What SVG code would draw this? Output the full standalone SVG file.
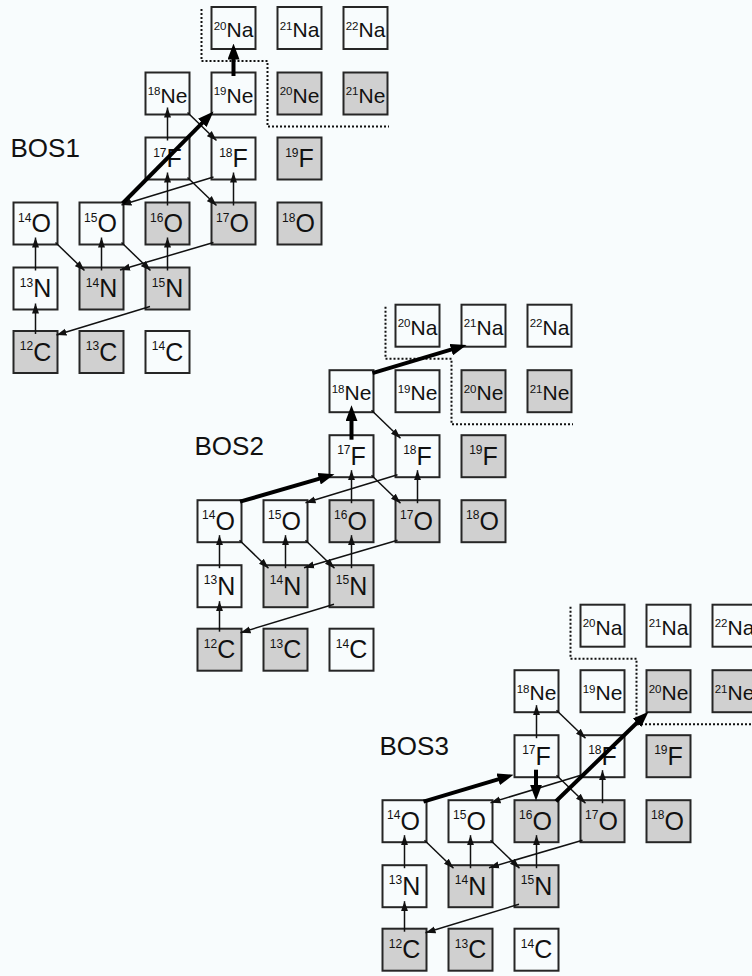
<svg xmlns="http://www.w3.org/2000/svg" width="752" height="976" viewBox="0 0 752 976">
<style>
.bg{fill:#f8fcfd}
.n rect{stroke:#262626;stroke-width:2}
.w{fill:#f8fcfd}
.g{fill:#d0d0d0}
.t{font-family:"Liberation Sans",Arial,Helvetica,sans-serif;font-size:25px;fill:#111;text-anchor:middle}
.t2{font-family:"Liberation Sans",Arial,Helvetica,sans-serif;font-size:21px;fill:#111;text-anchor:middle}
.s{font-size:12px}
.t2 .s{font-size:11.5px}
.lbl{font-family:"Liberation Sans",Arial,Helvetica,sans-serif;font-size:26px;fill:#111}
.c{stroke:#111;stroke-width:1.5;fill:none;marker-end:url(#ah)}
.k{stroke:#000;stroke-width:4;fill:none;marker-end:url(#ahT)}
.dot{stroke:#111;stroke-width:2;stroke-dasharray:2 2;fill:none}
</style>
<defs>
<marker id="ah" markerUnits="userSpaceOnUse" markerWidth="10" markerHeight="8" refX="10" refY="4" orient="auto"><path d="M0,0.5 L10,4 L0,7.5 z" fill="#111"/></marker>
<marker id="ahT" markerUnits="userSpaceOnUse" markerWidth="16" markerHeight="12" refX="5" refY="6" orient="auto"><path d="M0,0 L16,6 L0,12 z" fill="#000"/></marker>
</defs>
<rect class="bg" x="0" y="0" width="752" height="976"/>

<!-- ================= BOS1 ================= -->
<g id="bos1">
<text id="b1-label" class="lbl" x="10.5" y="157">BOS1</text>
<path id="b1-boundary" class="dot" d="M201.5,9 V61 H267.5 V126.5 H389"/>
<g id="b1-Na20" class="n" transform="translate(210.5,6)"><rect class="w" x="1" y="1" width="44" height="42"/><text class="t2" x="23" y="31"><tspan class="s" dy="-7.5">20</tspan><tspan dy="7.5">Na</tspan></text></g>
<g id="b1-Na21" class="n" transform="translate(276.5,6)"><rect class="w" x="1" y="1" width="44" height="42"/><text class="t2" x="23" y="31"><tspan class="s" dy="-7.5">21</tspan><tspan dy="7.5">Na</tspan></text></g>
<g id="b1-Na22" class="n" transform="translate(342.5,6)"><rect class="w" x="1" y="1" width="44" height="42"/><text class="t2" x="23" y="31"><tspan class="s" dy="-7.5">22</tspan><tspan dy="7.5">Na</tspan></text></g>
<g id="b1-Ne18" class="n" transform="translate(144.5,71.5)"><rect class="w" x="1" y="1" width="44" height="42"/><text class="t2" x="23" y="31"><tspan class="s" dy="-7.5">18</tspan><tspan dy="7.5">Ne</tspan></text></g>
<g id="b1-Ne19" class="n" transform="translate(210.5,71.5)"><rect class="w" x="1" y="1" width="44" height="42"/><text class="t2" x="23" y="31"><tspan class="s" dy="-7.5">19</tspan><tspan dy="7.5">Ne</tspan></text></g>
<g id="b1-Ne20" class="n" transform="translate(276.5,71.5)"><rect class="g" x="1" y="1" width="44" height="42"/><text class="t2" x="23" y="31"><tspan class="s" dy="-7.5">20</tspan><tspan dy="7.5">Ne</tspan></text></g>
<g id="b1-Ne21" class="n" transform="translate(342.5,71.5)"><rect class="g" x="1" y="1" width="44" height="42"/><text class="t2" x="23" y="31"><tspan class="s" dy="-7.5">21</tspan><tspan dy="7.5">Ne</tspan></text></g>
<g id="b1-F17" class="n" transform="translate(144.5,136.5)"><rect class="w" x="1" y="1" width="44" height="42"/><text class="t" x="23" y="30.5"><tspan class="s" dy="-10.5">17</tspan><tspan dy="10.5">F</tspan></text></g>
<g id="b1-F18" class="n" transform="translate(210.5,136.5)"><rect class="w" x="1" y="1" width="44" height="42"/><text class="t" x="23" y="30.5"><tspan class="s" dy="-10.5">18</tspan><tspan dy="10.5">F</tspan></text></g>
<g id="b1-F19" class="n" transform="translate(276.5,136.5)"><rect class="g" x="1" y="1" width="44" height="42"/><text class="t" x="23" y="30.5"><tspan class="s" dy="-10.5">19</tspan><tspan dy="10.5">F</tspan></text></g>
<g id="b1-O14" class="n" transform="translate(12.5,201.5)"><rect class="w" x="1" y="1" width="44" height="42"/><text class="t" x="22" y="30.5"><tspan class="s" dy="-10.5">14</tspan><tspan dy="10.5">O</tspan></text></g>
<g id="b1-O15" class="n" transform="translate(78.5,201.5)"><rect class="w" x="1" y="1" width="44" height="42"/><text class="t" x="22" y="30.5"><tspan class="s" dy="-10.5">15</tspan><tspan dy="10.5">O</tspan></text></g>
<g id="b1-O16" class="n" transform="translate(144.5,201.5)"><rect class="g" x="1" y="1" width="44" height="42"/><text class="t" x="22" y="30.5"><tspan class="s" dy="-10.5">16</tspan><tspan dy="10.5">O</tspan></text></g>
<g id="b1-O17" class="n" transform="translate(210.5,201.5)"><rect class="g" x="1" y="1" width="44" height="42"/><text class="t" x="22" y="30.5"><tspan class="s" dy="-10.5">17</tspan><tspan dy="10.5">O</tspan></text></g>
<g id="b1-O18" class="n" transform="translate(276.5,201.5)"><rect class="g" x="1" y="1" width="44" height="42"/><text class="t" x="22" y="30.5"><tspan class="s" dy="-10.5">18</tspan><tspan dy="10.5">O</tspan></text></g>
<g id="b1-N13" class="n" transform="translate(12.5,266.5)"><rect class="w" x="1" y="1" width="44" height="42"/><text class="t" x="23" y="30.5"><tspan class="s" dy="-10.5">13</tspan><tspan dy="10.5">N</tspan></text></g>
<g id="b1-N14" class="n" transform="translate(78.5,266.5)"><rect class="g" x="1" y="1" width="44" height="42"/><text class="t" x="23" y="30.5"><tspan class="s" dy="-10.5">14</tspan><tspan dy="10.5">N</tspan></text></g>
<g id="b1-N15" class="n" transform="translate(144.5,266.5)"><rect class="g" x="1" y="1" width="44" height="42"/><text class="t" x="23" y="30.5"><tspan class="s" dy="-10.5">15</tspan><tspan dy="10.5">N</tspan></text></g>
<g id="b1-C12" class="n" transform="translate(12.5,330)"><rect class="g" x="1" y="1" width="44" height="42"/><text class="t" x="23" y="30.5"><tspan class="s" dy="-10.5">12</tspan><tspan dy="10.5">C</tspan></text></g>
<g id="b1-C13" class="n" transform="translate(78.5,330)"><rect class="g" x="1" y="1" width="44" height="42"/><text class="t" x="23" y="30.5"><tspan class="s" dy="-10.5">13</tspan><tspan dy="10.5">C</tspan></text></g>
<g id="b1-C14" class="n" transform="translate(144.5,330)"><rect class="w" x="1" y="1" width="44" height="42"/><text class="t" x="23" y="30.5"><tspan class="s" dy="-10.5">14</tspan><tspan dy="10.5">C</tspan></text></g>
<g id="b1-connectors">
<path class="c" d="M35.5,334 V303.5"/>
<path class="c" d="M35.5,270.5 V237.5"/>
<path class="c" d="M101.5,270.5 V237.5"/>
<path class="c" d="M167.5,270.5 V237.5"/>
<path class="c" d="M167.5,205.5 V172.5"/>
<path class="c" d="M233.5,205.5 V172.5"/>
<path class="c" d="M167.5,140.5 V107.5"/>
<path class="c" d="M55.5,242.5 L84.5,270.5"/>
<path class="c" d="M121.5,242.5 L150.5,270.5"/>
<path class="c" d="M187.5,177.5 L216.5,205.5"/>
<path class="c" d="M187.5,112.5 L216.5,140.5"/>
<path class="c" d="M150,306.5 L56.5,335"/>
<path class="c" d="M213.5,242.5 L120,270"/>
<path class="c" d="M213.5,177 L121.5,205"/>
<path class="k" d="M122.5,203.5 L205.8,119.3"/>
<path class="k" d="M233.5,76 V54.5"/>
</g>
</g>

<!-- ================= BOS2 ================= -->
<g id="bos2" transform="translate(184,297.7)">
<text id="b2-label" class="lbl" x="10.5" y="157">BOS2</text>
<path id="b2-boundary" class="dot" d="M201.5,9 V61 H267.5 V126.5 H389"/>
<g id="b2-Na20" class="n" transform="translate(210.5,6)"><rect class="w" x="1" y="1" width="44" height="42"/><text class="t2" x="23" y="31"><tspan class="s" dy="-7.5">20</tspan><tspan dy="7.5">Na</tspan></text></g>
<g id="b2-Na21" class="n" transform="translate(276.5,6)"><rect class="w" x="1" y="1" width="44" height="42"/><text class="t2" x="23" y="31"><tspan class="s" dy="-7.5">21</tspan><tspan dy="7.5">Na</tspan></text></g>
<g id="b2-Na22" class="n" transform="translate(342.5,6)"><rect class="w" x="1" y="1" width="44" height="42"/><text class="t2" x="23" y="31"><tspan class="s" dy="-7.5">22</tspan><tspan dy="7.5">Na</tspan></text></g>
<g id="b2-Ne18" class="n" transform="translate(144.5,71.5)"><rect class="w" x="1" y="1" width="44" height="42"/><text class="t2" x="23" y="31"><tspan class="s" dy="-7.5">18</tspan><tspan dy="7.5">Ne</tspan></text></g>
<g id="b2-Ne19" class="n" transform="translate(210.5,71.5)"><rect class="w" x="1" y="1" width="44" height="42"/><text class="t2" x="23" y="31"><tspan class="s" dy="-7.5">19</tspan><tspan dy="7.5">Ne</tspan></text></g>
<g id="b2-Ne20" class="n" transform="translate(276.5,71.5)"><rect class="g" x="1" y="1" width="44" height="42"/><text class="t2" x="23" y="31"><tspan class="s" dy="-7.5">20</tspan><tspan dy="7.5">Ne</tspan></text></g>
<g id="b2-Ne21" class="n" transform="translate(342.5,71.5)"><rect class="g" x="1" y="1" width="44" height="42"/><text class="t2" x="23" y="31"><tspan class="s" dy="-7.5">21</tspan><tspan dy="7.5">Ne</tspan></text></g>
<g id="b2-F17" class="n" transform="translate(144.5,136.5)"><rect class="w" x="1" y="1" width="44" height="42"/><text class="t" x="23" y="30.5"><tspan class="s" dy="-10.5">17</tspan><tspan dy="10.5">F</tspan></text></g>
<g id="b2-F18" class="n" transform="translate(210.5,136.5)"><rect class="w" x="1" y="1" width="44" height="42"/><text class="t" x="23" y="30.5"><tspan class="s" dy="-10.5">18</tspan><tspan dy="10.5">F</tspan></text></g>
<g id="b2-F19" class="n" transform="translate(276.5,136.5)"><rect class="g" x="1" y="1" width="44" height="42"/><text class="t" x="23" y="30.5"><tspan class="s" dy="-10.5">19</tspan><tspan dy="10.5">F</tspan></text></g>
<g id="b2-O14" class="n" transform="translate(12.5,201.5)"><rect class="w" x="1" y="1" width="44" height="42"/><text class="t" x="22" y="30.5"><tspan class="s" dy="-10.5">14</tspan><tspan dy="10.5">O</tspan></text></g>
<g id="b2-O15" class="n" transform="translate(78.5,201.5)"><rect class="w" x="1" y="1" width="44" height="42"/><text class="t" x="22" y="30.5"><tspan class="s" dy="-10.5">15</tspan><tspan dy="10.5">O</tspan></text></g>
<g id="b2-O16" class="n" transform="translate(144.5,201.5)"><rect class="g" x="1" y="1" width="44" height="42"/><text class="t" x="22" y="30.5"><tspan class="s" dy="-10.5">16</tspan><tspan dy="10.5">O</tspan></text></g>
<g id="b2-O17" class="n" transform="translate(210.5,201.5)"><rect class="g" x="1" y="1" width="44" height="42"/><text class="t" x="22" y="30.5"><tspan class="s" dy="-10.5">17</tspan><tspan dy="10.5">O</tspan></text></g>
<g id="b2-O18" class="n" transform="translate(276.5,201.5)"><rect class="g" x="1" y="1" width="44" height="42"/><text class="t" x="22" y="30.5"><tspan class="s" dy="-10.5">18</tspan><tspan dy="10.5">O</tspan></text></g>
<g id="b2-N13" class="n" transform="translate(12.5,266.5)"><rect class="w" x="1" y="1" width="44" height="42"/><text class="t" x="23" y="30.5"><tspan class="s" dy="-10.5">13</tspan><tspan dy="10.5">N</tspan></text></g>
<g id="b2-N14" class="n" transform="translate(78.5,266.5)"><rect class="g" x="1" y="1" width="44" height="42"/><text class="t" x="23" y="30.5"><tspan class="s" dy="-10.5">14</tspan><tspan dy="10.5">N</tspan></text></g>
<g id="b2-N15" class="n" transform="translate(144.5,266.5)"><rect class="g" x="1" y="1" width="44" height="42"/><text class="t" x="23" y="30.5"><tspan class="s" dy="-10.5">15</tspan><tspan dy="10.5">N</tspan></text></g>
<g id="b2-C12" class="n" transform="translate(12.5,330)"><rect class="g" x="1" y="1" width="44" height="42"/><text class="t" x="23" y="30.5"><tspan class="s" dy="-10.5">12</tspan><tspan dy="10.5">C</tspan></text></g>
<g id="b2-C13" class="n" transform="translate(78.5,330)"><rect class="g" x="1" y="1" width="44" height="42"/><text class="t" x="23" y="30.5"><tspan class="s" dy="-10.5">13</tspan><tspan dy="10.5">C</tspan></text></g>
<g id="b2-C14" class="n" transform="translate(144.5,330)"><rect class="w" x="1" y="1" width="44" height="42"/><text class="t" x="23" y="30.5"><tspan class="s" dy="-10.5">14</tspan><tspan dy="10.5">C</tspan></text></g>
<g id="b2-connectors">
<path class="c" d="M35.5,334 V303.5"/>
<path class="c" d="M35.5,270.5 V237.5"/>
<path class="c" d="M101.5,270.5 V237.5"/>
<path class="c" d="M167.5,270.5 V237.5"/>
<path class="c" d="M167.5,205.5 V172.5"/>
<path class="c" d="M233.5,205.5 V172.5"/>
<path class="c" d="M55.5,242.5 L84.5,270.5"/>
<path class="c" d="M121.5,242.5 L150.5,270.5"/>
<path class="c" d="M187.5,177.5 L216.5,205.5"/>
<path class="c" d="M187.5,112.5 L216.5,140.5"/>
<path class="c" d="M150,306.5 L56.5,335"/>
<path class="c" d="M213.5,242.5 L120,270"/>
<path class="c" d="M213.5,177 L121.5,205"/>
<path class="k" d="M56,204 L139.9,179.6"/>
<path class="k" d="M167.5,142 V118.5"/>
<path class="k" d="M188.5,75.5 L272,50.5"/>
</g>
</g>

<!-- ================= BOS3 ================= -->
<g id="bos3" transform="translate(369,597.7)">
<text id="b3-label" class="lbl" x="10.5" y="157">BOS3</text>
<path id="b3-boundary" class="dot" d="M201.5,9 V61 H267.5 V126.5 H389"/>
<g id="b3-Na20" class="n" transform="translate(210.5,6)"><rect class="w" x="1" y="1" width="44" height="42"/><text class="t2" x="23" y="31"><tspan class="s" dy="-7.5">20</tspan><tspan dy="7.5">Na</tspan></text></g>
<g id="b3-Na21" class="n" transform="translate(276.5,6)"><rect class="w" x="1" y="1" width="44" height="42"/><text class="t2" x="23" y="31"><tspan class="s" dy="-7.5">21</tspan><tspan dy="7.5">Na</tspan></text></g>
<g id="b3-Na22" class="n" transform="translate(342.5,6)"><rect class="w" x="1" y="1" width="44" height="42"/><text class="t2" x="23" y="31"><tspan class="s" dy="-7.5">22</tspan><tspan dy="7.5">Na</tspan></text></g>
<g id="b3-Ne18" class="n" transform="translate(144.5,71.5)"><rect class="w" x="1" y="1" width="44" height="42"/><text class="t2" x="23" y="31"><tspan class="s" dy="-7.5">18</tspan><tspan dy="7.5">Ne</tspan></text></g>
<g id="b3-Ne19" class="n" transform="translate(210.5,71.5)"><rect class="w" x="1" y="1" width="44" height="42"/><text class="t2" x="23" y="31"><tspan class="s" dy="-7.5">19</tspan><tspan dy="7.5">Ne</tspan></text></g>
<g id="b3-Ne20" class="n" transform="translate(276.5,71.5)"><rect class="g" x="1" y="1" width="44" height="42"/><text class="t2" x="23" y="31"><tspan class="s" dy="-7.5">20</tspan><tspan dy="7.5">Ne</tspan></text></g>
<g id="b3-Ne21" class="n" transform="translate(342.5,71.5)"><rect class="g" x="1" y="1" width="44" height="42"/><text class="t2" x="23" y="31"><tspan class="s" dy="-7.5">21</tspan><tspan dy="7.5">Ne</tspan></text></g>
<g id="b3-F17" class="n" transform="translate(144.5,136.5)"><rect class="w" x="1" y="1" width="44" height="42"/><text class="t" x="23" y="30.5"><tspan class="s" dy="-10.5">17</tspan><tspan dy="10.5">F</tspan></text></g>
<g id="b3-F18" class="n" transform="translate(210.5,136.5)"><rect class="w" x="1" y="1" width="44" height="42"/><text class="t" x="23" y="30.5"><tspan class="s" dy="-10.5">18</tspan><tspan dy="10.5">F</tspan></text></g>
<g id="b3-F19" class="n" transform="translate(276.5,136.5)"><rect class="g" x="1" y="1" width="44" height="42"/><text class="t" x="23" y="30.5"><tspan class="s" dy="-10.5">19</tspan><tspan dy="10.5">F</tspan></text></g>
<g id="b3-O14" class="n" transform="translate(12.5,201.5)"><rect class="w" x="1" y="1" width="44" height="42"/><text class="t" x="22" y="30.5"><tspan class="s" dy="-10.5">14</tspan><tspan dy="10.5">O</tspan></text></g>
<g id="b3-O15" class="n" transform="translate(78.5,201.5)"><rect class="w" x="1" y="1" width="44" height="42"/><text class="t" x="22" y="30.5"><tspan class="s" dy="-10.5">15</tspan><tspan dy="10.5">O</tspan></text></g>
<g id="b3-O16" class="n" transform="translate(144.5,201.5)"><rect class="g" x="1" y="1" width="44" height="42"/><text class="t" x="22" y="30.5"><tspan class="s" dy="-10.5">16</tspan><tspan dy="10.5">O</tspan></text></g>
<g id="b3-O17" class="n" transform="translate(210.5,201.5)"><rect class="g" x="1" y="1" width="44" height="42"/><text class="t" x="22" y="30.5"><tspan class="s" dy="-10.5">17</tspan><tspan dy="10.5">O</tspan></text></g>
<g id="b3-O18" class="n" transform="translate(276.5,201.5)"><rect class="g" x="1" y="1" width="44" height="42"/><text class="t" x="22" y="30.5"><tspan class="s" dy="-10.5">18</tspan><tspan dy="10.5">O</tspan></text></g>
<g id="b3-N13" class="n" transform="translate(12.5,266.5)"><rect class="w" x="1" y="1" width="44" height="42"/><text class="t" x="23" y="30.5"><tspan class="s" dy="-10.5">13</tspan><tspan dy="10.5">N</tspan></text></g>
<g id="b3-N14" class="n" transform="translate(78.5,266.5)"><rect class="g" x="1" y="1" width="44" height="42"/><text class="t" x="23" y="30.5"><tspan class="s" dy="-10.5">14</tspan><tspan dy="10.5">N</tspan></text></g>
<g id="b3-N15" class="n" transform="translate(144.5,266.5)"><rect class="g" x="1" y="1" width="44" height="42"/><text class="t" x="23" y="30.5"><tspan class="s" dy="-10.5">15</tspan><tspan dy="10.5">N</tspan></text></g>
<g id="b3-C12" class="n" transform="translate(12.5,330)"><rect class="g" x="1" y="1" width="44" height="42"/><text class="t" x="23" y="30.5"><tspan class="s" dy="-10.5">12</tspan><tspan dy="10.5">C</tspan></text></g>
<g id="b3-C13" class="n" transform="translate(78.5,330)"><rect class="g" x="1" y="1" width="44" height="42"/><text class="t" x="23" y="30.5"><tspan class="s" dy="-10.5">13</tspan><tspan dy="10.5">C</tspan></text></g>
<g id="b3-C14" class="n" transform="translate(144.5,330)"><rect class="w" x="1" y="1" width="44" height="42"/><text class="t" x="23" y="30.5"><tspan class="s" dy="-10.5">14</tspan><tspan dy="10.5">C</tspan></text></g>
<g id="b3-connectors">
<path class="c" d="M35.5,334 V303.5"/>
<path class="c" d="M35.5,270.5 V237.5"/>
<path class="c" d="M101.5,270.5 V237.5"/>
<path class="c" d="M167.5,270.5 V237.5"/>
<path class="c" d="M233.5,205.5 V172.5"/>
<path class="c" d="M167.5,140.5 V107.5"/>
<path class="c" d="M55.5,242.5 L84.5,270.5"/>
<path class="c" d="M121.5,242.5 L150.5,270.5"/>
<path class="c" d="M187.5,177.5 L216.5,205.5"/>
<path class="c" d="M187.5,112.5 L216.5,140.5"/>
<path class="c" d="M150,306.5 L56.5,335"/>
<path class="c" d="M213.5,242.5 L120,270"/>
<path class="c" d="M213.5,177 L121.5,205"/>
<path class="k" d="M54.5,204 L134,180.2"/>
<path class="k" d="M167,172 V192"/>
<path class="k" d="M187,203.5 L271.6,121.6"/>
</g>
</g>
</svg>
